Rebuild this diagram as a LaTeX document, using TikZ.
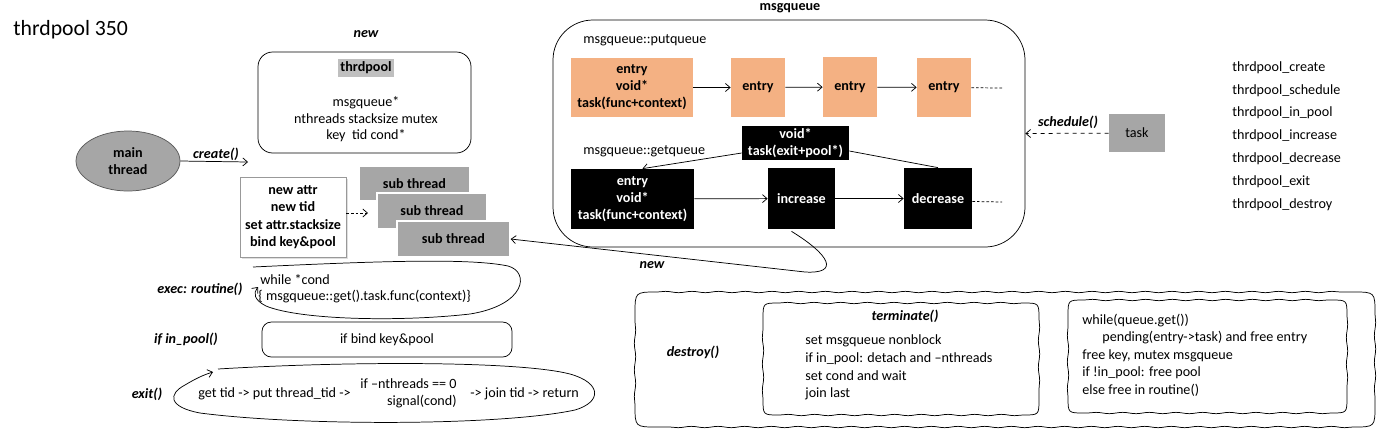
\documentclass[tikz,border=0pt]{standalone}
\usepackage{fontspec}
\setmainfont{Carlito}
\usetikzlibrary{arrows.meta,decorations.pathmorphing,shadows,calc,shapes.geometric}
\definecolor{orng}{HTML}{F4B183}
\definecolor{gbox}{HTML}{A6A6A6}
\definecolor{hl}{HTML}{BFBFBF}
\newcommand\wavyframe[5]{\draw (#1+#5,#2) decorate[wvd]{-- (#3-#5,#2)} .. controls (#3,#2) .. (#3,#2+#5) decorate[wvd]{-- (#3,#4-#5)} .. controls (#3,#4) .. (#3-#5,#4) decorate[wvd]{-- (#1+#5,#4)} .. controls (#1,#4) .. (#1,#4-#5) decorate[wvd]{-- (#1,#2+#5)} .. controls (#1,#2) .. (#1+#5,#2);}
\begin{document}
\begin{tikzpicture}[x=0.75pt,y=-0.75pt, line width=0.55pt,
  every node/.style={font=\fontsize{10.6}{13}\selectfont, inner sep=0pt},
  bx/.style 2 args={minimum width=#1*0.75pt, minimum height=#2*0.75pt},
  obox/.style={fill=orng, font=\fontsize{10.6}{12.8}\selectfont\bfseries, align=center},
  kbox/.style={fill=black, text=white, font=\fontsize{10.6}{12.8}\selectfont\bfseries, align=center},
  sbox/.style={fill=gbox, draw=white, line width=1pt, font=\fontsize{10.6}{13}\selectfont\bfseries},
  lab/.style={font=\fontsize{10.6}{13}\selectfont\bfseries\itshape},
  arr/.style={-{Straight Barb[length=3.5pt,width=6pt]}},
  dots/.style={dash pattern=on 2pt off 1.5pt},
  wvd/.style={decoration={snake, amplitude=0.5pt, segment length=20pt}},
]
\useasboundingbox (0,0) rectangle (1399,437);

\node[anchor=west, font=\fontsize{16.3}{18}\selectfont] (title) at (13,30) {thrdpool 350};

% thrdpool struct
\node[lab] (newlab) at (366,34) {new};
\node[draw, rounded corners=11pt, bx={213}{101}] (pool) at (364.5,102.5) {};
\node[fill=hl, font=\fontsize{10.6}{13}\selectfont\bfseries, inner xsep=1.5pt, inner ysep=2pt] (poolt) at (366,68) {thrdpool};
\node[align=center, font=\fontsize{10.6}{12.4}\selectfont] (poolb) at (366,119.5) {msgqueue*\\nthreads stacksize mutex\\key\ \ tid cond*};

% main thread
\node[ellipse, fill=gbox, draw=black!65, bx={104}{60}, font=\fontsize{10.6}{13}\selectfont\bfseries, align=center] (main) at (128,161) {main\\thread};
\coordinate (ce) at (248,162);
\draw[arr] (main.east) -- (ce);
\node[lab] (createl) at (216,154) {create()};

% attr box
\node[draw=gray!80, fill=white, drop shadow={opacity=0.25, shadow xshift=1.5pt, shadow yshift=-1.5pt}, bx={106}{80}, align=center, font=\fontsize{10.6}{13}\selectfont\bfseries] (attr) at (293,217) {new attr\\new tid\\set attr.stacksize\\bind key\&pool};
\coordinate (ae) at (368,213);
\draw[dots, arr] ($(attr.east)+(0,-4)$) -- (ae);

% sub threads
\node[sbox, bx={111}{35}] (s1) at (414.5,183.5) {sub thread};
\node[sbox, bx={110}{36}] (s2) at (432,211) {sub thread};
\node[sbox, bx={113}{36}] (s3) at (453.5,239) {sub thread};

% msgqueue
\node[font=\fontsize{10.6}{13}\selectfont\bfseries] (mql) at (790,8) {msgqueue};
\node[draw, rounded corners=30pt, bx={472}{227}] (mq) at (789,133.5) {};
\node[anchor=west] (pq) at (583,40) {msgqueue::putqueue};
\node[obox, bx={122}{59}] (A) at (632,87.5) {entry\\void*\\task(func+context)};
\node[obox, bx={54}{59}] (B) at (758,87.5) {entry};
\node[obox, bx={54}{60}] (C) at (850,87) {entry};
\node[obox, bx={54}{59}] (D) at (944,87.5) {entry};
\draw[arr] (A) -- (B);
\draw[arr] (B) -- (C);
\draw[arr] (C) -- (D);
\coordinate (Dd) at (1002,88);
\draw[dots] (D) -- (Dd);

\node[anchor=west] (gq) at (583,151) {msgqueue::getqueue};
\node[kbox, bx={107}{34}] (vb) at (795.5,143) {void*\\task(exit+pool*)};
\node[kbox, bx={123}{60}] (E) at (632.5,199) {entry\\void*\\task(func+context)};
\node[kbox, bx={67}{61}] (inc) at (801.5,198.5) {increase};
\node[kbox, bx={68}{61}] (dec) at (938,198.5) {decrease};
\draw[arr] (E) -- (inc);
\draw[arr] (inc) -- (dec);
\coordinate (Ed) at (1002,202);
\draw[dots] ($(dec.east)+(0,3)$) -- (Ed);
\draw (dec.north) -- ($(vb.east)+(0,8)$);
\draw[arr] ($(vb.west)+(0,10)$) -- ($(E.north)+(10,0)$);

% new curve back to sub thread
\draw[arr] ($(inc.south)+(-10,2)$) .. controls (830,255) and (840,274) .. (805,272) -- (s3.east);
\node[lab] (newl2) at (652,265) {new};

% schedule
\node[fill=gbox, bx={56}{38}] (task) at (1137,133) {task};
\draw[dashed, arr] (task) -- (mq.east);
\node[lab] (schl) at (1068,122) {schedule()};

% api list
\node[anchor=west] (f1) at (1232,68) {thrdpool\_create};
\node[anchor=west] (f2) at (1232,91) {thrdpool\_schedule};
\node[anchor=west] (f3) at (1232,113) {thrdpool\_in\_pool};
\node[anchor=west] (f4) at (1232,136) {thrdpool\_increase};
\node[anchor=west] (f5) at (1232,159) {thrdpool\_decrease};
\node[anchor=west] (f6) at (1232,182) {thrdpool\_exit};
\node[anchor=west] (f7) at (1232,205) {thrdpool\_destroy};

% exec routine
\node[lab] (execl) at (200,289) {exec: routine()};
\node[anchor=west, align=left, font=\fontsize{10.6}{12}\selectfont] (exect) at (258,289) {\hspace*{1.5pt}while *cond\\\{ msgqueue::get().task.func(context)\}};
\draw[arr] (253,267) .. controls (380,261) and (470,258) .. (508,266) .. controls (530,272) and (526,305) .. (470,314) .. controls (400,322) and (300,320) .. (266,306) .. controls (254,300) and (253,293) .. (258,287);

% in_pool
\node[lab] (inl) at (186,339) {if in\_pool()};
\node[draw, rounded corners=7pt, bx={250}{35}] (ib) at (387,339.5) {if bind key\&pool};

% exit
\node[lab] (exl) at (147,394) {exit()};
\draw[arr] (218,369) .. controls (350,361) and (520,361) .. (570,374) .. controls (602,383) and (602,402) .. (575,410) .. controls (500,426) and (300,426) .. (200,413) .. controls (168,407) and (168,394) .. (185,385) .. controls (195,379) and (203,375) .. (213,372);
\node[anchor=west] (x1) at (198,394) {get tid -> put thread\_tid ->};
\node[anchor=east, align=right, font=\fontsize{10.6}{12.5}\selectfont] (x2) at (457,393.5) {if –nthreads == 0\\signal(cond)};
\node[anchor=west] (x3) at (470,394) {-> join tid -> return};

% destroy
\wavyframe{635}{292}{1375}{427}{22}
\node[lab] (dl) at (693,352) {destroy()};
\wavyframe{763}{303}{1039}{415}{16}
\node[lab] (tl) at (905,316) {terminate()};
\node[anchor=west, align=left, font=\fontsize{10.6}{13.2}\selectfont] (tt) at (805,367.5) {set msgqueue nonblock\\if in\_pool: detach and –nthreads\\set cond and wait\\join last};
\wavyframe{1068}{300}{1347}{413}{16}
\node[anchor=west, align=left, font=\fontsize{10.6}{13.1}\selectfont] (frt) at (1082,355) {while(queue.get())\\\hspace*{15pt}pending(entry->task) and free entry\\free key, mutex msgqueue\\if !in\_pool: free pool\\else free in routine()};
\end{tikzpicture}
\end{document}
